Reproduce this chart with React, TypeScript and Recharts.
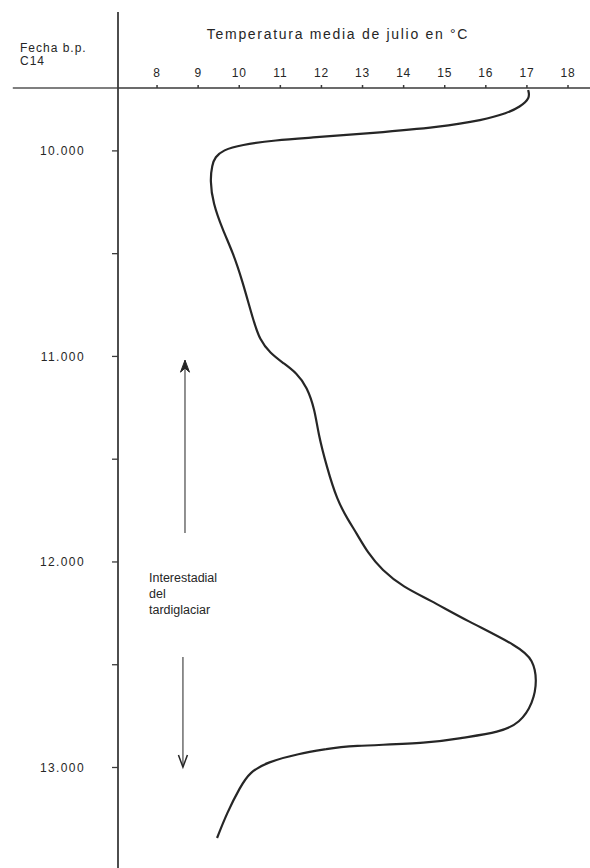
import React from 'react';
import { LineChart, Line, XAxis, YAxis, ReferenceLine, Customized } from 'recharts';

// Fecha b.p. (C14) and mean July temperature (°C)
const dates = [
  9704, 9743, 9786, 9816, 9850, 9884, 9913, 9937, 9947, 9971, 9996, 10030, 10069, 10142,
  10254, 10385, 10497, 10628, 10823, 10920, 10983, 11032, 11081, 11149, 11261, 11373,
  11538, 11699, 11796, 11859, 11956, 12039, 12122, 12185, 12282, 12414, 12477, 12575,
  12687, 12784, 12828, 12857, 12881, 12895, 12910, 12932, 12974, 13022, 13095, 13222, 13343,
];
const temps = [
  17.03, 17.08, 16.83, 16.52, 15.93, 14.89, 13.26, 11.65, 10.92, 10.02, 9.61, 9.41, 9.34, 9.29,
  9.36, 9.6, 9.85, 10.07, 10.34, 10.5, 10.75, 11.07, 11.4, 11.65, 11.84, 11.92,
  12.13, 12.38, 12.65, 12.85, 13.13, 13.47, 13.99, 14.64, 15.5, 16.83, 17.15, 17.25,
  17.15, 16.83, 16.35, 15.37, 14.72, 12.6, 12.15, 11.45, 10.68, 10.26, 10.02, 9.7, 9.46,
];
const tempTicks = [8, 9, 10, 11, 12, 13, 14, 15, 16, 17, 18];
const dateTicks = [10000, 10500, 11000, 11500, 12000, 12500, 13000];
const dateLabels: Record<number, string> = {
  10000: '10.000',
  11000: '11.000',
  12000: '12.000',
  13000: '13.000',
};
const titleText = 'Temperatura media de julio en °C';
const yTitleLines = ['Fecha b.p.', 'C14'];
const noteLines = ['Interestadial', 'del', 'tardiglaciar'];

const data = dates.map((d, i) => ({ date: d, temp: temps[i] }));

const X_DOMAIN: [number, number] = [7.05, 18.535];
const Y_DOMAIN: [number, number] = [9694, 13489];

const FONT = '"Liberation Sans", Arial, Helvetica, sans-serif';
const INK = '#262626';
const AXIS = '#3a3a3a';

const Arrow = (p: any) => {
  const { x1, y1, x2, y2 } = p;
  const up = y2 < y1;
  const d = up ? 1 : -1;
  return (
    <g>
      <line x1={x1} y1={y1} x2={x2} y2={y2} stroke="#555" strokeWidth={1.3} />
      {up ? (
        <path
          d={`M${x2 - 4.5},${y2 + 12} L${x2},${y2} L${x2 + 4.5},${y2 + 12} L${x2},${y2 + 8} Z`}
          fill={INK}
          stroke={INK}
          strokeWidth={1}
        />
      ) : (
        <path
          d={`M${x2 - 4.5},${y2 + d * 12} L${x2},${y2} L${x2 + 4.5},${y2 + d * 12}`}
          fill="none"
          stroke={INK}
          strokeWidth={1.5}
        />
      )}
    </g>
  );
};

const Texts = () => (
  <g fontFamily={FONT} fill={INK}>
    <text x={338} y={39} textAnchor="middle" fontSize={14} letterSpacing={1.7}>
      {titleText}
    </text>
    {yTitleLines.map((t, i) => (
      <text key={t} x={20} y={52 + i * 13} fontSize={12} letterSpacing={1}>
        {t}
      </text>
    ))}
    {noteLines.map((t, i) => (
      <text key={t} x={149} y={582 + i * 16} fontSize={12.5} letterSpacing={0}>
        {t}
      </text>
    ))}
  </g>
);

export default function App() {
  return (
    <div style={{ position: 'absolute', left: 0, top: 0, background: '#fff' }}>
      <LineChart
        layout="vertical"
        width={590}
        height={868}
        data={data}
        margin={{ top: 58, right: 0, bottom: 0, left: 0 }}
      >
        <XAxis
          type="number"
          dataKey="temp"
          orientation="top"
          domain={X_DOMAIN}
          ticks={tempTicks}
          allowDataOverflow
          height={30}
          tickSize={3}
          tickMargin={8}
          interval={0}
          axisLine={{ stroke: AXIS, strokeWidth: 1.5 }}
          tickLine={{ stroke: AXIS, strokeWidth: 1.5 }}
          tick={{ fill: INK, fontSize: 12, fontFamily: FONT, letterSpacing: 0.8 }}
        />
        <YAxis
          type="number"
          dataKey="date"
          domain={Y_DOMAIN}
          ticks={dateTicks}
          allowDataOverflow
          width={118}
          tickSize={6}
          tickMargin={27}
          interval={0}
          tickFormatter={(v: number) => dateLabels[v] ?? ''}
          axisLine={{ stroke: AXIS, strokeWidth: 1.8 }}
          tickLine={{ stroke: AXIS, strokeWidth: 1.3 }}
          tick={{ fill: INK, fontSize: 12, fontFamily: FONT, letterSpacing: 1.4 }}
        />
        <ReferenceLine
          segment={[
            { x: 4.49, y: Y_DOMAIN[0] },
            { x: X_DOMAIN[0], y: Y_DOMAIN[0] },
          ]}
          ifOverflow="visible"
          stroke="#555"
          strokeWidth={1.5}
        />
        <ReferenceLine
          segment={[
            { x: X_DOMAIN[0], y: 9324 },
            { x: X_DOMAIN[0], y: Y_DOMAIN[0] },
          ]}
          ifOverflow="visible"
          stroke={AXIS}
          strokeWidth={1.8}
        />
        <ReferenceLine
          segment={[
            { x: 8.68, y: 11859 },
            { x: 8.68, y: 11018 },
          ]}
          ifOverflow="visible"
          shape={Arrow}
        />
        <ReferenceLine
          segment={[
            { x: 8.63, y: 12463 },
            { x: 8.63, y: 12998 },
          ]}
          ifOverflow="visible"
          shape={Arrow}
        />
        <Line
          type="basis"
          dataKey="temp"
          stroke={INK}
          strokeWidth={2.2}
          dot={false}
          isAnimationActive={false}
        />
        <Customized component={Texts} />
      </LineChart>
    </div>
  );
}
